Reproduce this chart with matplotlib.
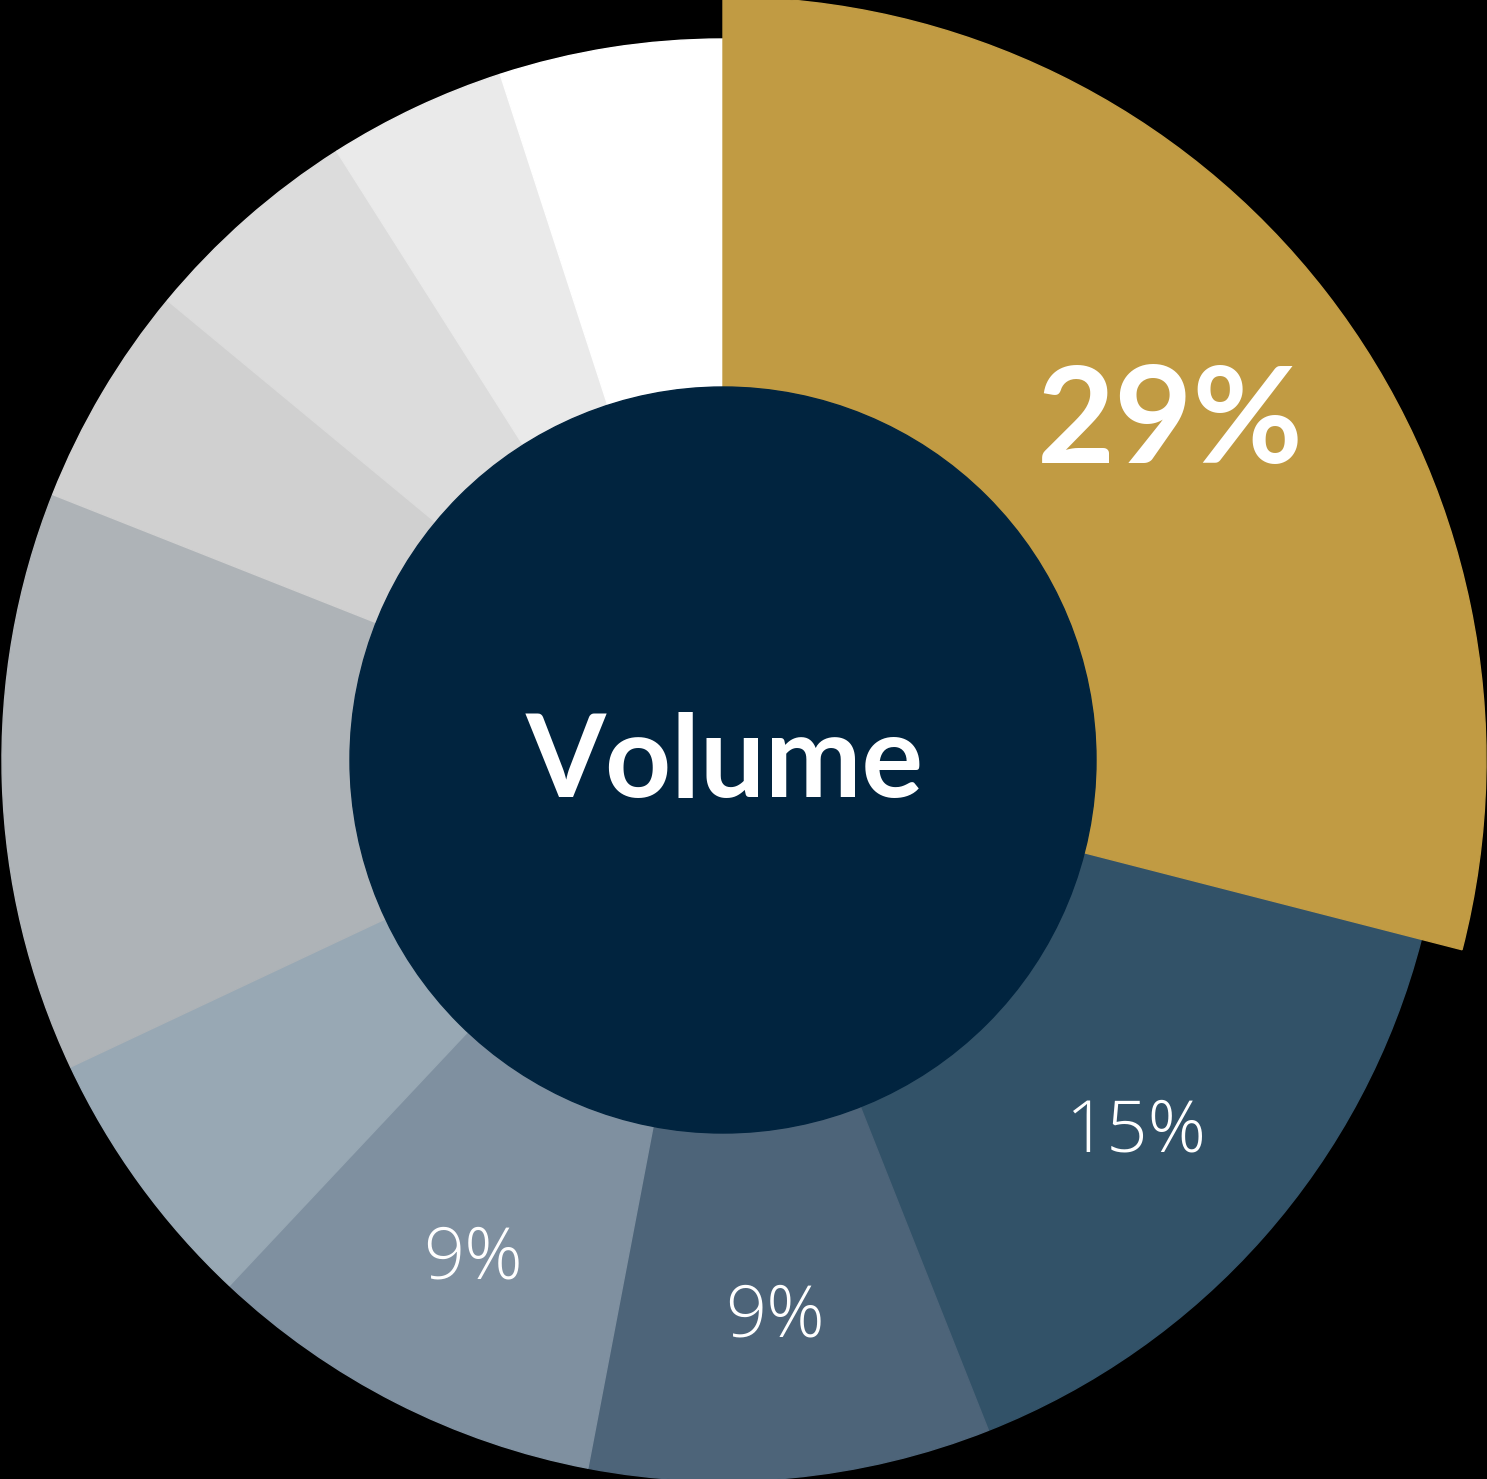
import numpy as np
import matplotlib
matplotlib.use('Agg')
import matplotlib.pyplot as plt
from matplotlib.patches import Circle

# --- Data (clockwise from 12 o'clock) ---
shares = [29, 15, 9, 9, 6, 13, 5, 5, 4, 5]
labels = ["29%", "15%", "9%", "9%", "", "", "", "", "", ""]
colors = ["#C19B43", "#325268", "#4D6479", "#7F90A0", "#98A8B4",
          "#AEB3B7", "#D0D0D0", "#DCDCDC", "#EAEAEA", "#FFFFFF"]
center_label = "Volume"

# --- Geometry in pixel units ---
W, H = 1487, 1479
cx, cy = 723, H - 760
r_outer = 721
r_gold = 763
r_inner = 373

fig = plt.figure(figsize=(W / 100, H / 100), dpi=100, facecolor="black")
ax = fig.add_axes([0, 0, 1, 1])
ax.set_facecolor("black")

wedges, _ = ax.pie(shares, colors=colors, startangle=90, counterclock=False,
                   radius=r_outer, center=(cx, cy),
                   wedgeprops=dict(linewidth=1))
for w, c in zip(wedges, colors):
    w.set_edgecolor(c)
# highlighted slice sticks out further
wedges[0].set_radius(r_gold)
wedges[0].set_zorder(3)

ax.add_patch(Circle((cx, cy), r_inner, color="#01243F", zorder=5))

ax.set_xlim(0, W)
ax.set_ylim(0, H)
ax.set_aspect("equal")
ax.axis("off")

# --- Slice labels at mid angle ---
cum = np.cumsum([0] + shares)
for i, lab in enumerate(labels):
    if not lab:
        continue
    mid = 90 - (cum[i] + cum[i + 1]) / 2 * 3.6
    if i == 0:
        rr = (r_inner + r_gold) / 2 - 2
        kw = dict(fontsize=97, fontweight="bold", family="Lato")
    else:
        rr = 551
        kw = dict(fontsize=52, fontweight="light", family="Open Sans")
    x = cx + rr * np.cos(np.radians(mid))
    y = cy + rr * np.sin(np.radians(mid))
    ax.text(x, y, lab, color="white", ha="center", va="center_baseline",
            zorder=6, **kw)

ax.text(cx + 2, cy + 5, center_label, color="white", ha="center",
        va="center_baseline", family="Lato", fontsize=83, fontweight="bold",
        zorder=6)

plt.savefig("out.png", dpi=100, facecolor="black")
plt.close(fig)
